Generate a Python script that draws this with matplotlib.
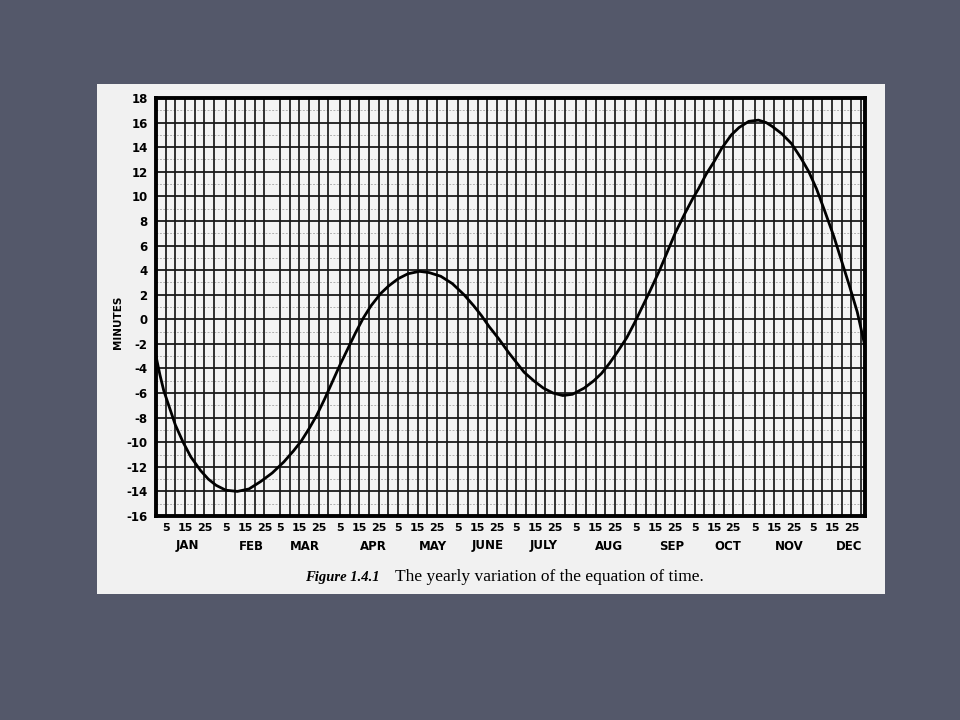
import matplotlib.pyplot as plt
from matplotlib.patches import Rectangle
from matplotlib.transforms import blended_transform_factory

# equation of time (day of year, minutes)
days = [0, 2, 4, 7, 10, 14, 18, 23, 27, 31, 36, 42, 48, 54, 60, 66, 71, 75,
        79, 83, 87, 91, 95, 99, 103, 107, 111, 116, 120, 125, 130, 136, 141,
        147, 153, 159, 164, 168, 172, 177, 182, 186, 190, 195, 200, 205, 210,
        215, 221, 226, 230, 234, 238, 243, 247, 251, 255, 260, 264, 268, 273,
        277, 280, 284, 288, 292, 297, 301, 306, 311, 315, 318, 323, 328, 333,
        337, 341, 345, 350, 354, 358, 362, 366]
eot = [-3.0, -4.5, -5.8, -7.2, -8.6, -10.0, -11.2, -12.3, -13.0, -13.5, -13.9,
       -14.0, -13.8, -13.2, -12.5, -11.6, -10.7, -9.9, -8.9, -7.8, -6.5, -5.1,
       -3.7, -2.4, -1.1, 0.1, 1.1, 2.1, 2.7, 3.3, 3.7, 3.9, 3.8, 3.5, 2.9, 2.0,
       1.1, 0.3, -0.6, -1.6, -2.7, -3.5, -4.3, -5.0, -5.6, -6.0, -6.2, -6.1,
       -5.6, -5.0, -4.4, -3.6, -2.7, -1.5, -0.3, 1.0, 2.3, 4.0, 5.5, 7.0, 8.6,
       9.8, 10.6, 11.8, 12.8, 13.9, 15.0, 15.6, 16.1, 16.2, 16.0, 15.7, 15.1,
       14.3, 13.1, 12.0, 10.6, 8.9, 6.7, 4.7, 2.7, 0.6, -2.2]

months = ['JAN', 'FEB', 'MAR', 'APR', 'MAY', 'JUNE', 'JULY', 'AUG', 'SEP',
          'OCT', 'NOV', 'DEC']
month_len = [31, 28, 31, 30, 31, 30, 31, 31, 30, 31, 30, 31]
tick_dom = [5, 15, 25]
# where each month name sits (day of month under which it is printed)
month_label_dom = [16, 18, 18, 22, 23, 20, 19, 22, 23, 22, 23, 24]

starts = [sum(month_len[:i]) for i in range(12)]

fig = plt.figure(figsize=(9.6, 7.2), dpi=100)
fig.patch.set_facecolor('#54586a')

# the scanned page
fig.patches.append(Rectangle((97 / 960, 1 - 594 / 720), 788 / 960, 510 / 720,
                             transform=fig.transFigure, facecolor='#f1f1f1',
                             edgecolor='none', zorder=-1))

ax = fig.add_axes([156 / 960, 1 - 516 / 720, 709 / 960, 418 / 720])
ax.set_zorder(2)
ax.set_facecolor('#f4f4f4')
ax.set_xlim(0, 366)
ax.set_ylim(-16, 18)

# grid: heavy every 2 minutes, faint every minute, verticals every 5 days
for v in range(-16, 19):
    if v % 2 == 0:
        ax.axhline(v, color='#1a1a1a', lw=1.3, zorder=1)
    else:
        ax.axhline(v, color='#b0b0b0', lw=0.7, ls=(0, (2, 1.5)), zorder=1)
for s, n in zip(starts, month_len):
    for k in range(5, 31, 5):
        if k <= n:
            ax.axvline(s + k, color='#1a1a1a', lw=1.25, zorder=1)

ax.plot(days, eot, color='black', lw=2.0, zorder=3, solid_joinstyle='round')

for sp in ax.spines.values():
    sp.set_linewidth(2.8)
    sp.set_color('black')

ax.set_yticks(range(-16, 19, 2))
ax.set_yticklabels([str(v) for v in range(-16, 19, 2)], fontsize=8.5,
                   fontweight='bold')
ax.tick_params(axis='y', length=0, pad=6)

xt = [s + d for s in starts for d in tick_dom]
ax.set_xticks(xt)
ax.set_xticklabels([str(d) for s in starts for d in tick_dom], fontsize=8,
                   fontweight='bold')
ax.tick_params(axis='x', length=0, pad=5)

tr = blended_transform_factory(ax.transData, fig.transFigure)
for s, m, d in zip(starts, months, month_label_dom):
    ax.text(s + d, 1 - 546 / 720, m, transform=tr, ha='center', va='center',
            fontsize=8.5, fontweight='bold')

fig.text(118 / 960, 1 - 322 / 720, 'MINUTES', rotation=90, ha='center',
         va='center', fontsize=7.5, fontweight='bold')

fig.text(305 / 960, 1 - 577 / 720, 'Figure 1.4.1', fontsize=10.5,
         family='Liberation Serif', style='italic', fontweight='bold',
         va='center')
fig.text(395 / 960, 1 - 577 / 720, 'The yearly variation of the equation of time.',
         fontsize=12.5, family='Liberation Serif', va='center')

fig.savefig('out.png', dpi=100, facecolor=fig.get_facecolor())
